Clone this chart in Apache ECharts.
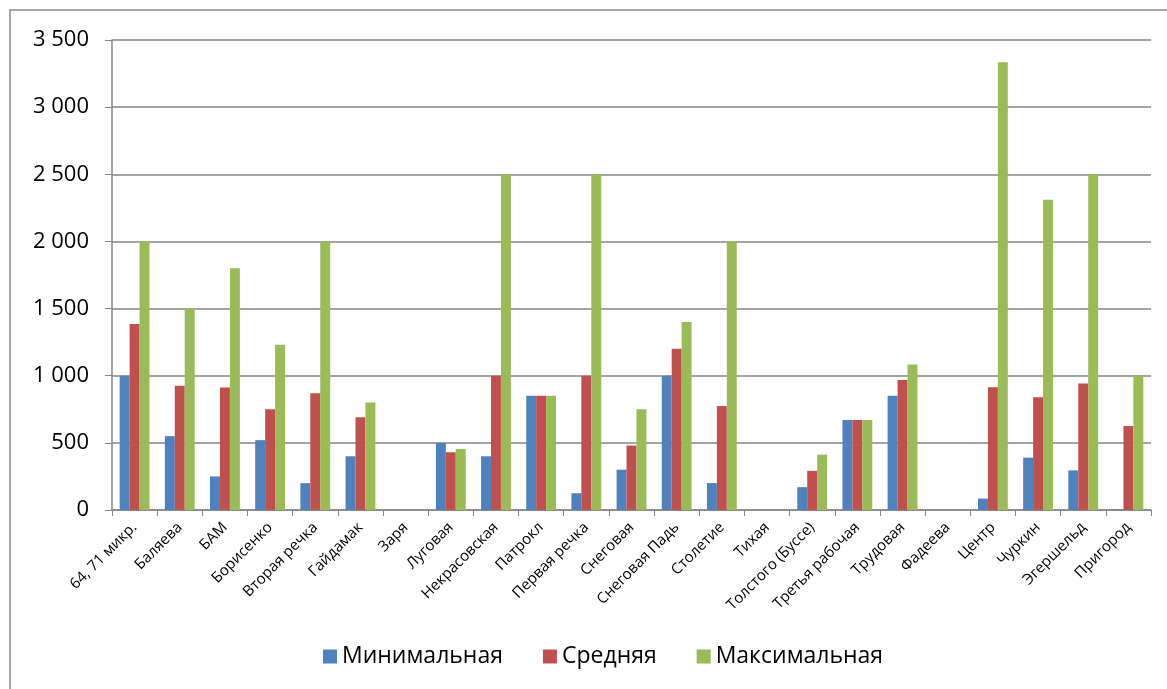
<!DOCTYPE html>
<html>
<head>
<meta charset="utf-8">
<script src="https://cdn.jsdelivr.net/npm/echarts@6/dist/echarts.min.js"></script>
<style>
  html, body { margin: 0; padding: 0; background: #fff; }
  #chart { width: 1167px; height: 689px; }
</style>
</head>
<body>
<div id="chart"></div>
<script>
const categories = ['64, 71 микр.', 'Баляева', 'БАМ', 'Борисенко', 'Вторая речка', 'Гайдамак', 'Заря', 'Луговая',
  'Некрасовская', 'Патрокл', 'Первая речка', 'Снеговая', 'Снеговая Падь', 'Столетие', 'Тихая', 'Толстого (Буссе)',
  'Третья рабочая', 'Трудовая', 'Фадеева', 'Центр', 'Чуркин', 'Эгершельд', 'Пригород'];
const minValues = [1000, 550, 250, 520, 200, 400, 0, 500, 400, 850, 125, 300, 1000, 200, 0, 170, 670, 850, 0, 85, 390, 295, 5];
const avgValues = [1385, 925, 912, 750, 870, 690, 0, 430, 1000, 850, 1000, 480, 1200, 775, 0, 292, 670, 968, 0, 915, 840, 942, 625];
const maxValues = [2000, 1500, 1800, 1230, 2000, 800, 0, 455, 2500, 850, 2500, 750, 1400, 2000, 0, 412, 670, 1083, 0, 3335, 2310, 2500, 1000];
const seriesNames = ['Минимальная', 'Средняя', 'Максимальная'];
const colors = ['#4F81BD', '#C0504D', '#9BBB59'];

const font = '"Open Sans", sans-serif';
let myChart = echarts.init(document.getElementById('chart'));
let option = {
  animation: false,
  textStyle: { fontFamily: font },
  graphic: [{
    type: 'rect',
    shape: { x: 10, y: 10, width: 1170, height: 700 },
    style: { fill: 'none', stroke: '#8a8a8a', lineWidth: 1.5 },
    silent: true
  }],
  grid: { left: 112, right: 16, top: 40, bottom: 179 },
  legend: {
    bottom: 16,
    left: 318,
    itemWidth: 14,
    itemHeight: 14,
    itemGap: 40,
    icon: 'rect',
    textStyle: { fontSize: 23, color: '#000', fontFamily: font },
    data: seriesNames
  },
  xAxis: {
    type: 'category',
    data: categories,
    axisLine: { lineStyle: { color: '#868686', width: 1.5 } },
    axisTick: { show: true, length: 6, lineStyle: { color: '#868686' } },
    axisLabel: { rotate: 45, fontSize: 15, color: '#000', interval: 0, margin: 15 }
  },
  yAxis: {
    type: 'value',
    min: 0,
    max: 3500,
    interval: 500,
    axisLine: { show: true, lineStyle: { color: '#868686', width: 1.5 } },
    axisTick: { show: true, length: 7, lineStyle: { color: '#868686' } },
    splitLine: { lineStyle: { color: '#868686', width: 1.5 } },
    axisLabel: {
      fontSize: 22,
      color: '#000',
      margin: 23,
      formatter: v => String(v).replace(/\B(?=(\d{3})+(?!\d))/g, ' ')
    }
  },
  series: [minValues, avgValues, maxValues].map((vals, i) => ({
    name: seriesNames[i],
    type: 'bar',
    data: vals,
    barGap: '0%',
    barCategoryGap: '34%',
    itemStyle: { color: colors[i] }
  }))
};
option && myChart.setOption(option);
</script>
</body>
</html>
